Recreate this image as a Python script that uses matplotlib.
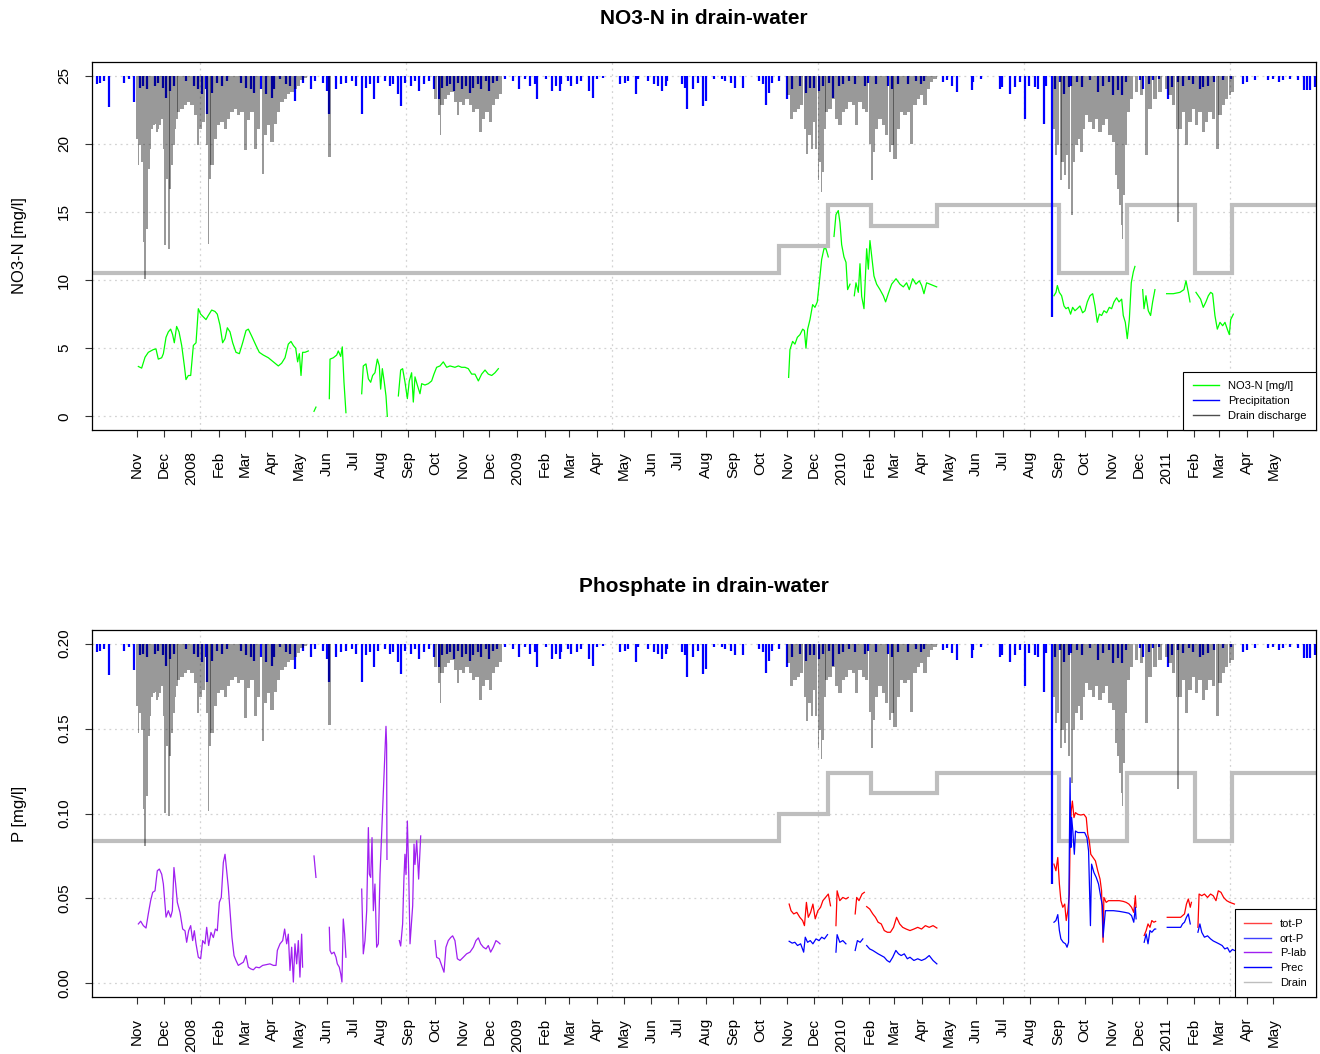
import numpy as np
import pandas as pd
import matplotlib
matplotlib.use("Agg")
import matplotlib.pyplot as plt
from matplotlib.lines import Line2D

plt.rcParams['font.family'] = ['Liberation Sans', 'DejaVu Sans']

# x values are days since 2008-01-01, None marks a gap in a series
T0 = pd.Timestamp('2008-01-01')

# precipitation [mm/day]
prec_day = [-106, -103, -98, -92, -76, -70, -64, -58, -54, -50, -41, -37, -32, -28, -24, -19,
            -6, 3, 7, 12, 16, 18, 23, 29, 34, 40, 56, 62, 67, 71, 78, 84, 91, 93, 100, 106,
            111, 117, 126, 135, 139, 148, 152, 155, 163, 168, 174, 181, 185, 192, 196, 201,
            205, 210, 218, 223, 227, 232, 236, 240, 247, 251, 256, 262, 267, 273, 278, 282,
            287, 291, 295, 300, 304, 309, 313, 317, 322, 326, 331, 335, 339, 344, 353, 361,
            368, 375, 381, 386, 388, 399, 405, 410, 414, 416, 423, 427, 434, 438, 447, 452,
            456, 463, 482, 487, 491, 500, 502, 513, 520, 524, 529, 533, 535, 551, 555, 557,
            564, 570, 575,
            578, 587, 596, 600, 607, 611, 620, 638, 642, 646, 649, 653, 660, 669, 675, 684,
            691, 695, 700, 706, 710, 717, 721, 728, 732, 739, 746, 757, 761, 770, 783, 787,
            794, 805, 814, 820, 823,
            845, 849, 855, 860, 877, 879, 888, 909, 911, 920, 926, 931, 937, 941, 948, 952,
            958, 961, 967, 971, 976, 981, 986, 989, 995, 1001, 1010, 1019, 1025, 1031, 1036,
            1042, 1046, 1051, 1066, 1070, 1076, 1081, 1087, 1098, 1102, 1109, 1115, 1121,
            1126, 1134, 1137, 1143, 1149, 1160, 1169, 1182, 1186, 1195, 1210, 1216, 1222,
            1227, 1235, 1244, 1250, 1254, 1257, 1263]
prec_mm = [2.6, 2.1, 1.6, 9.1, 2.1, 1.1, 7.7, 3.5, 3.1, 4.0, 3.1, 2.1, 3.5, 6.5, 4.5, 3.1,
           1.6, 3.1, 4.0, 5.5, 4.0, 11.4, 5.0, 2.1, 3.1, 1.6, 2.1, 3.5, 4.0, 5.0, 4.0, 5.5, 6.5, 4.0, 1.1, 2.6,
           3.1, 7.5, 2.1, 4.0, 1.6, 2.1, 4.5, 11.4, 4.0, 2.6, 2.1, 1.6, 3.1, 11.4, 3.5, 2.6,
           7.0, 2.1, 1.6, 3.1, 2.6, 5.5, 8.9, 2.1, 3.1, 1.6, 4.5, 2.6, 1.6, 4.0, 7.0, 3.5,
           3.1, 2.6, 4.5, 2.1, 4.0, 3.1, 5.0, 3.5, 2.6, 4.0, 1.6, 4.5, 2.1, 1.6, 1.1, 1.6,
           4.0, 1.1, 3.1, 2.6, 7.0, 1.1, 4.5, 3.1, 4.5, 2.6, 1.6, 3.1, 2.6, 1.6, 4.5, 6.5,
           1.1, 0.6, 2.6, 2.1, 1.6, 5.5, 1.1, 1.6, 2.6, 3.1, 4.5, 3.1, 1.6, 2.6, 3.5, 9.9,
           4.0, 2.1, 8.9,
           7.5, 1.1, 1.1, 1.6, 2.1, 3.5, 3.5, 1.6, 2.6, 8.7, 5.0, 2.1, 1.6, 7.0, 4.0, 3.1,
           5.0, 3.5, 3.5, 4.5, 3.1, 2.1, 6.5, 3.1, 2.6, 1.6, 2.6, 3.1, 2.1, 2.6, 3.1, 4.0,
           2.6, 2.6, 1.6, 2.6, 1.6,
           1.9, 1.4, 2.9, 4.8, 4.3, 1.9, 0.9, 3.8, 3.3, 5.3, 3.3, 1.9, 12.6, 2.9, 3.3, 3.8,
           14.1, 2.9, 70.8, 3.8, 1.9, 5.3, 3.3, 2.9, 1.9, 3.3, 1.4, 4.8, 2.9, 1.9, 5.8,
           4.3, 5.8, 1.9, 1.4, 3.8, 2.4, 1.4, 0.9, 6.8, 3.3, 1.9, 2.9, 1.4,
           2.4, 3.8, 3.3, 2.9, 1.9, 1.4, 0.9, 2.4, 1.9, 1.4, 1.4, 0.9, 1.9,
           1.4, 0.9, 1.4, 4.3, 4.3, 4.3, 3.3]

# drain discharge [mm/day]
drain_day = [-61.0, -59.2, -57.3, -55.4, -53.5, -51.7, -49.8, -47.9, -46.0, -44.2, -42.3, -40.4,
             -38.6, -36.7, -34.8, -32.9, -31.1, -29.2, -27.3, -25.4, -23.6, -21.7, -19.8, -17.9,
             -16.1, -14.2, -10.5, -6.7, -3.0, 0.8, 4.5, 7.5, 10.1, 13.9, 17.6, 19.5, 21.4, 23.3,
             27.0, 30.7, 34.5, 38.2, 42.0, 45.7, 49.5, 53.2, 57.0, 60.7, 64.5, 68.2, 72.0, 75.7,
             80.6, 83.2, 86.9, 90.7, 94.4, 98.2, 101.9, 105.7, 109.4, 113.2, 116.9, 120.7, 124.4,
             128.1, 155.1,
             274.2, 278.0, 279.9, 281.7, 285.5, 289.2, 293.0, 296.7, 299.7, 302.3, 306.1, 309.8,
             313.6, 317.3, 321.1, 324.8, 328.6, 332.3, 336.0, 339.8, 343.5, 347.3,
             671.0, 674.7, 678.4, 682.2, 685.9, 689.7, 692.3, 694.6, 697.2, 699.8, 702.0, 704.7,
             706.5, 708.4, 710.3, 712.2, 714.0, 717.8, 721.5, 725.3, 729.0, 732.8, 736.5, 740.3,
             744.0, 747.7, 751.5, 755.2, 759.0, 762.7, 765.3, 767.2, 770.2, 774.0, 777.7, 781.5,
             785.2, 788.2, 790.8, 794.6, 798.3, 802.1, 805.8, 809.6, 813.3, 817.0, 820.8, 824.5,
             828.3, 832.0, 835.8,
             969.5, 971.8, 974.4, 977.0, 979.2, 981.9, 984.5, 986.7, 989.4, 992.0, 995.0, 998.0,
             1000.6, 1003.2, 1006.2, 1010.0, 1013.7, 1017.5, 1021.2, 1025.0, 1028.7, 1032.4,
             1036.2, 1039.2, 1041.8, 1043.7, 1045.6, 1046.7, 1048.2, 1050.4, 1053.0, 1056.8,
             1062.4, 1068.0, 1073.7, 1077.4, 1083.0, 1088.6, 1096.1, 1099.9, 1103.6, 1107.4,
             1108.9, 1111.1, 1114.9, 1118.6, 1122.4, 1126.1, 1129.8, 1133.6, 1137.3, 1141.1,
             1144.8, 1148.6, 1153.1, 1156.1, 1159.8, 1163.6, 1167.3, 1170.3]
drain_mm = [18.5, 26.3, 20.5, 25.3, 48.8, 59.6, 44.9, 27.3, 21.4, 15.6, 14.6, 14.1,
            16.5, 15.6, 14.6, 12.6, 21.4, 49.8, 30.2, 50.8, 33.2, 26.3, 20.5, 15.6,
            12.6, 10.7, 9.7, 8.7, 7.7, 8.7, 11.7, 20.5, 15.6, 13.6, 20.5, 49.3, 30.2, 26.3,
            18.5, 14.6, 13.6, 15.6, 12.6, 10.7, 9.7, 11.7, 10.7, 21.9, 13.1, 10.7, 21.4, 15.6,
            28.8, 17.5, 14.6, 19.5, 14.1, 10.7, 7.7, 6.8, 5.3, 4.8, 3.8, 2.9, 1.4,
            0.7, 23.9,
            6.8, 11.7, 17.5, 8.7, 6.8, 5.8, 4.8, 7.7, 11.7, 7.7, 8.7, 6.8,
            8.7, 10.7, 9.7, 16.5, 12.6, 10.7, 13.6, 8.7, 6.8, 5.3,
            5.8, 12.6, 10.7, 9.7, 8.7, 15.6, 22.9, 17.5, 21.4, 13.6, 21.4, 30.7,
            25.3, 34.1, 28.3, 15.6, 10.7, 9.7, 6.8, 12.6, 14.6, 10.7, 9.7, 7.7,
            8.7, 14.6, 7.7, 9.7, 10.7, 20.0, 30.7, 22.4, 15.6, 12.6, 14.6, 17.5,
            22.4, 20.5, 24.4, 15.6, 10.7, 11.7, 10.7, 20.0, 8.7, 6.8, 5.8, 8.7,
            3.8, 1.9, 0.9,
            15.6, 23.4, 20.5, 30.7, 25.3, 29.3, 23.4, 33.2, 41.0, 25.3, 20.5, 18.5,
            22.4, 15.6, 11.7, 13.6, 15.6, 12.6, 16.5, 14.6, 12.6, 17.5,
            19.5, 29.3, 33.2, 38.1, 43.9, 47.8, 35.1, 20.5, 10.7, 6.8,
            4.8, 5.8, 23.4, 9.7, 6.8, 4.8, 3.8, 5.8, 8.7, 15.6,
            42.9, 15.6, 10.7, 20.5, 13.6, 9.7, 14.6, 10.7, 16.5, 13.6,
            10.7, 12.6, 21.4, 11.7, 8.7, 6.8, 5.8, 4.8]

# drain class level (drawn as step line), change dates and levels
step_day = [660, 715, 764, 838, 975, 1052, 1128, 1170]
step_level = [10.5, 12.5, 15.5, 14.0, 15.5, 10.5, 15.5, 10.5, 15.5]

# NO3-N [mg/l]
no3 = [(-59.5, 3.66), (-55.8, 3.54), (-52, 4.34), (-48.3, 4.7), (-42.7, 4.9), (-39.7, 4.95),
       (-37.1, 4.2), (-33.3, 4.3), (-31.4, 4.6), (-28.4, 5.8), (-25.8, 6.2), (-23.2, 6.4),
       (-21, 6.0), (-19.1, 5.4), (-16.5, 6.6), (-13.8, 6.2), (-10.8, 5.2), (-7.8, 3.7), (-6, 2.7),
       (-3.3, 3.0), (-0.7, 3.0), (2.3, 5.2), (5.3, 5.4), (7.9, 7.9), (10.5, 7.5), (13.5, 7.3),
       (16.5, 7.1), (19.1, 7.4), (22.9, 7.8), (26.6, 7.7), (29.2, 7.5), (32.2, 6.7), (35.2, 5.4),
       (37.9, 5.7), (40.5, 6.5), (43.5, 6.2), (46.5, 5.4), (50.2, 4.7), (54, 4.6), (57.7, 5.4),
       (61.5, 6.3), (64.1, 6.4), (67.8, 5.9), (72.7, 5.2), (76.4, 4.7), (80.9, 4.5), (86.6, 4.3),
       (92.2, 4.0), (97.8, 3.7), (101.5, 3.9), (105.3, 4.3), (109, 5.3), (112, 5.5), (114.7, 5.2),
       (117.3, 5.0), (119.5, 4.0), (121.4, 4.6), (123.3, 3.0), (125.1, 4.7), (127.8, 4.7),
       (131.5, 4.8), (None, None),
       (137.9, 0.37), (140.1, 0.68), (None, None),
       (155.1, 1.3), (155.9, 4.2), (159.6, 4.3), (163.4, 4.5), (165.2, 4.8), (167.9, 4.4),
       (169.7, 5.1), (171.6, 2.5), (173.8, 0.27), (None, None),
       (191.5, 1.66), (193.3, 3.7), (196.3, 3.85), (199, 2.75), (201.6, 2.5), (203.8, 3.0),
       (206.4, 3.2), (209.1, 4.2), (211.3, 3.7), (212.8, 2.0), (214.7, 3.5), (216.9, 2.5),
       (218.8, 1.5), (220.3, 0.0), (None, None),
       (232.7, 1.5), (235.3, 3.4), (237.5, 3.5), (240.2, 2.5), (242.8, 1.3), (245, 2.6),
       (247.6, 3.2), (249.5, 1.05), (251.4, 2.9), (254, 2.3), (257, 1.66), (258.9, 2.4),
       (262.6, 2.3), (266.4, 2.4), (270.1, 2.6), (272.7, 3.1), (275.7, 3.6), (279.5, 3.7),
       (283.2, 4.0), (287, 3.6), (290.7, 3.7), (296.3, 3.6), (300.1, 3.7), (303.8, 3.6),
       (307.6, 3.6), (311.3, 3.5), (315.1, 3.1), (318.8, 3.1), (322.6, 2.6), (326.3, 3.1),
       (330.1, 3.4), (333.8, 3.1), (337.6, 3.0), (341.3, 3.2), (345.1, 3.5), (None, None),
       (671.3, 2.86), (672.8, 4.9), (675.8, 5.5), (678.4, 5.3), (681.1, 5.8), (684.1, 6.0),
       (687.1, 6.4), (689, 6.3), (690.8, 5.0), (692.7, 6.4), (695.3, 7.1), (698.3, 8.2),
       (700.9, 8.0), (703.5, 8.4), (705.8, 9.8), (708.4, 11.5), (711, 12.3), (713.3, 12.3),
       (715.9, 11.7), (None, None),
       (722.3, 13.2), (724.5, 14.8), (727.1, 15.1), (729, 14.2), (730.9, 12.6), (733.5, 11.7),
       (735.8, 11.3), (737.6, 9.3), (740.3, 9.7), (None, None),
       (745.1, 8.85), (747, 9.8), (749.6, 9.1), (751.5, 11.2), (753.4, 8.8), (756, 7.9),
       (759, 12.3), (760.9, 10.8), (762.7, 12.9), (764.6, 11.8), (767.2, 10.3), (770.2, 9.7),
       (774, 9.3), (777.7, 8.85), (780.3, 8.4), (783.3, 9.0), (787.1, 9.7), (792, 10.1),
       (796.4, 9.7), (800.2, 9.5), (803.9, 9.8), (806.9, 9.3), (810.7, 10.1), (814.4, 9.7),
       (818.2, 9.95), (820.8, 9.6), (823.4, 9.0), (826.4, 9.8), (830.2, 9.7), (833.9, 9.6),
       (837.7, 9.5), (None, None),
       (969.5, 8.85), (971.8, 9.1), (973.3, 9.6), (975.5, 9.1), (978.1, 8.85), (980.8, 8.1),
       (983, 7.9), (985.6, 8.0), (988.2, 7.5), (990.5, 8.0), (993.1, 7.75), (995.7, 7.9),
       (998.7, 8.1), (1001.7, 7.6), (1004.4, 7.75), (1007, 8.4), (1010, 8.85), (1013, 9.0),
       (1015.6, 8.1), (1018.2, 6.9), (1020.5, 7.5), (1023.1, 7.4), (1025.7, 7.75), (1028.7, 7.6),
       (1031.7, 8.0), (1034.3, 7.9), (1037, 8.4), (1039.9, 8.7), (1042.6, 8.4), (1045.6, 8.6),
       (1047.4, 7.4), (1049.7, 6.9), (1051.9, 5.7), (1054.2, 7.1), (1056.4, 9.8), (1058.7, 10.6),
       (1060.5, 11.0), (None, None),
       (1069.2, 9.3), (1070.7, 7.9), (1072.9, 8.85), (1075.5, 7.75), (1078.1, 7.4), (1080.4, 8.4),
       (1083, 9.3), (None, None),
       (1096.1, 9.0), (1103.6, 9.0), (1111.1, 9.1), (1115.6, 9.3), (1117.9, 9.95), (1120.5, 9.1),
       (1122.4, 8.4), (None, None),
       (1129.1, 9.1), (1131.7, 8.85), (1134.3, 8.6), (1137.3, 8.0), (1140.3, 8.4), (1143, 8.85),
       (1145.6, 9.1), (1147.8, 9.0), (1150.4, 7.4), (1153.1, 6.4), (1156.1, 6.9), (1159.1, 6.65),
       (1161.7, 6.9), (1164.3, 6.4), (1166.6, 6.0), (1168.1, 7.1), (1171.1, 7.5)]

# P-lab [mg/l]
p_lab = [(-59.5, 0.035), (-56.9, 0.0366), (-53.9, 0.034), (-50.9, 0.0326), (-48.3, 0.041),
         (-45.7, 0.0487), (-43.4, 0.0536), (-40.8, 0.0545), (-38.2, 0.0663), (-35.9, 0.0673),
         (-33.3, 0.0643), (-31.4, 0.0585), (-29.6, 0.0467), (-28.4, 0.039), (-25.8, 0.0428),
         (-23.2, 0.039), (-21.3, 0.0428), (-19.5, 0.0682), (-17.6, 0.0585), (-15.7, 0.0477),
         (-12.7, 0.0418), (-9.7, 0.032), (-7.1, 0.031), (-5.2, 0.0242), (-3, 0.031), (-0.7, 0.034),
         (1.5, 0.0252), (3.4, 0.031), (5.3, 0.0233), (7.9, 0.0154), (10.5, 0.0145), (12.8, 0.0252),
         (15.4, 0.0233), (17.3, 0.033), (19.5, 0.0223), (22.1, 0.030), (24.8, 0.027), (27, 0.032),
         (29.2, 0.031), (31.5, 0.0477), (33.7, 0.0506), (36, 0.0712), (37.9, 0.076), (39.7, 0.0663),
         (41.6, 0.0565), (43.5, 0.0428), (45.7, 0.027), (48, 0.0164), (50.2, 0.0135), (52.8, 0.0106),
         (55.5, 0.0115), (58.5, 0.0125), (61.5, 0.0164), (64.1, 0.0096), (66.7, 0.0086),
         (69.7, 0.008), (72.7, 0.0096), (76.4, 0.0092), (80.2, 0.0106), (84.7, 0.0111),
         (88.4, 0.0115), (92.2, 0.0106), (95.2, 0.0106), (96.7, 0.0194), (99.7, 0.0233),
         (102.7, 0.0252), (104.9, 0.032), (107.2, 0.0233), (109, 0.029), (110.9, 0.0076),
         (112.8, 0.0213), (114.7, 0.0008), (116.5, 0.0233), (118.4, 0.0115), (120.3, 0.0252),
         (122.1, 0.0037), (124, 0.029), (125.1, 0.0096), (None, None),
         (137.9, 0.075), (140.1, 0.0624), (None, None),
         (155.1, 0.033), (155.9, 0.0194), (157.7, 0.0174), (160.4, 0.0184), (162.6, 0.0154),
         (164.1, 0.0115), (166.3, 0.0096), (167.9, 0.0057), (169.3, 0.0008), (170.8, 0.0379),
         (172.3, 0.029), (173.8, 0.0154), (None, None),
         (191.5, 0.0555), (193.3, 0.0174), (195.2, 0.0252), (197.1, 0.0428), (199, 0.0917),
         (200.1, 0.0643), (201.6, 0.0624), (203.1, 0.0858), (204.6, 0.0428), (206.4, 0.0585),
         (208.3, 0.0213), (210.2, 0.0233), (212.1, 0.0643), (213.9, 0.0878), (215, 0.1015),
         (216.5, 0.121), (217.7, 0.1386), (218.8, 0.1513), (219.5, 0.1406), (219.9, 0.073),
         (None, None),
         (233.8, 0.0252), (235.3, 0.022), (237.5, 0.035), (239, 0.0624), (240.1, 0.076),
         (241.3, 0.064), (242.8, 0.0956), (244.3, 0.066), (245.8, 0.0233), (247.6, 0.037),
         (248.8, 0.0457), (250.3, 0.082), (251.4, 0.07), (253.3, 0.084), (255.5, 0.0614),
         (257.8, 0.0868), (None, None),
         (273.9, 0.0252), (275.7, 0.0154), (278.7, 0.0145), (281.3, 0.0106), (284, 0.0066),
         (286.2, 0.0213), (288.8, 0.0252), (291.5, 0.027), (293.7, 0.028), (296.3, 0.0252),
         (299, 0.0145), (302, 0.0135), (305.7, 0.0154), (309.4, 0.0174), (313.2, 0.0184),
         (317, 0.0213), (319.9, 0.0252), (322.6, 0.0268), (325.2, 0.0233), (328.2, 0.0213),
         (331.2, 0.0203), (333.8, 0.0223), (336.4, 0.0184), (339.4, 0.0213), (342.4, 0.0252),
         (345.1, 0.0242), (346.9, 0.0233)]

# tot-P [mg/l]
tot_p = [(671.9, 0.0467), (674, 0.0428), (677, 0.0409), (680.5, 0.0418), (683.9, 0.0389),
         (687, 0.037), (689.1, 0.034), (691.3, 0.0477), (693.4, 0.0389), (696, 0.0418),
         (698.6, 0.0467), (701.2, 0.038), (704.2, 0.0428), (707.2, 0.0448), (709.8, 0.0487),
         (712.8, 0.0506), (715.9, 0.0526), (718.4, 0.0457), (None, None),
         (724.5, 0.034), (725.8, 0.0545), (728.8, 0.0487), (732.2, 0.0506), (735.7, 0.0497),
         (738.3, 0.0506), (None, None),
         (746.1, 0.0409), (747.8, 0.0506), (750.4, 0.0487), (753.8, 0.0526), (756.4, 0.0536),
         (None, None),
         (759, 0.0452), (762.4, 0.0438), (765.9, 0.0409), (768.9, 0.0389), (771.9, 0.036),
         (775.4, 0.035), (778.8, 0.0311), (782.3, 0.0301), (785.7, 0.0301), (789.2, 0.033),
         (792.6, 0.0389), (796.1, 0.035), (799.5, 0.033), (803.4, 0.032), (807.7, 0.0311),
         (812.1, 0.032), (816.4, 0.033), (820.7, 0.032), (825, 0.034), (829.3, 0.033),
         (833.6, 0.034), (837.9, 0.0326), (None, None),
         (969.5, 0.0702), (971.7, 0.0663), (973.8, 0.0741), (975.6, 0.0585), (977.3, 0.0487),
         (979.4, 0.0448), (981.6, 0.0467), (983.3, 0.037), (985.1, 0.0428), (986.8, 0.0526),
         (987.6, 0.0819), (988.9, 0.1015), (990.2, 0.1073), (992, 0.0976), (993.7, 0.1005),
         (996.3, 0.0995), (999.7, 0.0991), (1003.2, 0.0995), (1005.8, 0.0976), (1007.5, 0.0878),
         (1009.2, 0.0839), (1010.9, 0.076), (1013.5, 0.0741), (1016.1, 0.0721), (1018.7, 0.0663),
         (1021.3, 0.0614), (1023, 0.0545), (1024.7, 0.0242), (1025.6, 0.0506), (1028.2, 0.0477),
         (1030.8, 0.0487), (1034.2, 0.0487), (1038.5, 0.0487), (1042.9, 0.0487), (1047.2, 0.0483),
         (1050.6, 0.0477), (1053.7, 0.0467), (1056.7, 0.0448), (1059.2, 0.0418), (1061, 0.0516),
         (1061.8, 0.0448), (None, None),
         (1070.9, 0.0282), (1073.1, 0.0311), (1075.2, 0.035), (1077.4, 0.033), (1079.5, 0.037),
         (1081.7, 0.036), (1083.8, 0.0365), (None, None),
         (1096.8, 0.0389), (1111.9, 0.0389), (1116.2, 0.0409), (1118.4, 0.0467), (1120.5, 0.0497),
         (1122.7, 0.0448), (1124, 0.0477), (None, None),
         (1131.3, 0.033), (1132.6, 0.0526), (1135.6, 0.0516), (1138.6, 0.0526), (1142.1, 0.0506),
         (1145.5, 0.0526), (1148.5, 0.0516), (1151.6, 0.0487), (1154.2, 0.0545), (1157.2, 0.0536),
         (1160.2, 0.0506), (1163.6, 0.0487), (1167.1, 0.0477), (1170.1, 0.0471), (1172.3, 0.0467)]

# ort-P [mg/l]
ort_p = [(671.9, 0.0248), (675.3, 0.0237), (678.3, 0.0242), (681.3, 0.0223), (684.8, 0.0233),
         (688.2, 0.0184), (690, 0.0272), (692.6, 0.0242), (695.6, 0.0252), (698.6, 0.0233),
         (702.1, 0.0262), (705.5, 0.0252), (708.5, 0.0272), (711.5, 0.0262), (715, 0.0287),
         (None, None),
         (724.5, 0.0184), (725.8, 0.0287), (728.8, 0.0242), (732.2, 0.0252), (735.7, 0.0233),
         (None, None),
         (746.1, 0.0194), (748.6, 0.0252), (751.7, 0.0242), (754.7, 0.0262), (None, None),
         (759, 0.0223), (762.4, 0.0203), (765.9, 0.0194), (768.9, 0.0184), (771.9, 0.0174),
         (775.4, 0.0164), (778.8, 0.0154), (781.9, 0.0135), (784.9, 0.0125), (788.3, 0.0154),
         (791.8, 0.0194), (794.8, 0.0174), (797.8, 0.0164), (801.3, 0.0174), (804.7, 0.0145),
         (807.7, 0.0154), (812.1, 0.0135), (816.4, 0.0145), (820.7, 0.0135), (825, 0.0145),
         (829.3, 0.0164), (833.6, 0.0135), (837.9, 0.0115), (None, None),
         (969.5, 0.036), (971.7, 0.037), (973.8, 0.0405), (975.6, 0.0311), (977.3, 0.0262),
         (979.9, 0.0242), (982.5, 0.0233), (984.2, 0.0213), (985.9, 0.0242), (986.8, 0.08),
         (987.6, 0.121), (988.5, 0.08), (989.4, 0.0976), (990.7, 0.0897), (992.4, 0.076),
         (993.7, 0.0897), (996.3, 0.0888), (999.7, 0.0888), (1004, 0.0888), (1006.6, 0.0858),
         (1008.4, 0.078), (1010.5, 0.034), (1011.8, 0.0702), (1014.4, 0.0653), (1017, 0.0624),
         (1019.6, 0.0585), (1022.2, 0.0506), (1023.9, 0.0457), (1024.7, 0.0272), (1027.3, 0.0428),
         (1030.8, 0.0428), (1036.4, 0.0428), (1042.9, 0.0424), (1049.3, 0.0418), (1053.7, 0.0413),
         (1056.7, 0.0399), (1059.2, 0.036), (1061, 0.0448), (1061.8, 0.038), (None, None),
         (1070.9, 0.0242), (1073.1, 0.0291), (1075.2, 0.0233), (1077.4, 0.0311), (1079.5, 0.0301),
         (1082.6, 0.032), (1083.8, 0.032), (None, None),
         (1096.8, 0.033), (1111.9, 0.033), (1114, 0.035), (1116.2, 0.036), (1118.4, 0.0389),
         (1120.5, 0.0409), (1122.7, 0.035), (None, None),
         (1131.3, 0.0301), (1133.5, 0.035), (1135.6, 0.0301), (1138.6, 0.0272), (1142.1, 0.028),
         (1145.5, 0.0262), (1148.5, 0.025), (1151.6, 0.0242), (1155, 0.0233), (1158.5, 0.0223),
         (1161.5, 0.0203), (1164.5, 0.021), (1167.1, 0.0184), (1170.1, 0.02), (1172.3, 0.0194)]

XLIM = (-111.6, 1264.0)


def series(pairs):
    arr = np.array(pairs, dtype=float)
    return arr[:, 0], arr[:, 1]


def month_ticks():
    months = pd.date_range('2007-11-01', '2011-05-01', freq='MS')
    pos = np.asarray((months - T0).days, dtype=float)
    labs = [str(m.year) if m.month == 1 else m.strftime('%b') for m in months]
    return pos, labs


def base_panel(ax, top, ylim, yticks, ylabels, ylabel, title_y, title):
    f = top / 25.0
    ax.set_xlim(*XLIM)
    ax.set_ylim(*ylim)

    # R grid(): dotted lightgray, x lines at pretty POSIXct seconds
    grid_days = (np.arange(1.2e9, 1.31e9, 2e7) - T0.timestamp()) / 86400.0
    for g in grid_days:
        ax.axvline(g, color='#D3D3D3', lw=0.9, ls=(0, (1.5, 3)), zorder=0)
    for t in yticks:
        ax.axhline(t, color='#D3D3D3', lw=0.9, ls=(0, (1.5, 3)), zorder=0)

    # drain class step line
    sx = [XLIM[0]] + step_day + [XLIM[1]]
    sy = [v * f for v in step_level] + [step_level[-1] * f]
    ax.plot(sx, sy, drawstyle='steps-post', color='#BEBEBE', lw=3.0, zorder=1,
            solid_joinstyle='miter')

    # hanging bars: precipitation and drain discharge (mm * 0.25 on the NO3 scale)
    pd_ = np.array(prec_day, float)
    pm = np.array(prec_mm, float) * 0.25 * f
    ax.vlines(pd_, top - pm, top, colors='#0000FF', lw=1.6, zorder=2)
    dd = np.array(drain_day, float)
    dm = np.array(drain_mm, float) * 0.25 * f
    w = np.minimum(np.diff(np.append(dd, dd[-1] + 3.0)), 3.8)
    ax.bar(dd, dm, width=w, bottom=top - dm, align='center', color='black',
           alpha=0.4, lw=0, zorder=3)

    pos, labs = month_ticks()
    ax.set_xticks(pos)
    ax.set_xticklabels(labs, rotation=90, ha='center', va='top')
    ax.set_yticks(yticks)
    ax.set_yticklabels(ylabels, rotation=90, va='center', ha='right')
    ax.tick_params(axis='both', direction='out', length=5, width=0.8, pad=10,
                   labelsize=11, color='#333333')
    for s in ax.spines.values():
        s.set_linewidth(0.9)
        s.set_color('black')
    ax.set_ylabel(ylabel, fontsize=12)
    ax.yaxis.set_label_coords(-0.053, 0.5)
    fig.text(704 / 1320, 1 - title_y / 1054, title, ha='center', va='center',
             fontsize=15, fontweight='bold')


def add_legend(ax, colors, labels):
    handles = [Line2D([], [], color=c, lw=1) for c in colors]
    leg = ax.legend(handles=handles, labels=labels, loc='lower right', borderaxespad=0,
                    fontsize=8, fancybox=False, edgecolor='black', framealpha=1,
                    handlelength=2.4, handletextpad=0.8, labelspacing=0.42, borderpad=0.85)
    leg.get_frame().set_linewidth(0.8)
    leg.set_zorder(10)


fig = plt.figure(figsize=(13.2, 10.54), dpi=100)
ax1 = fig.add_axes([92 / 1320, 1 - 430 / 1054, 1224 / 1320, 368 / 1054])
ax2 = fig.add_axes([92 / 1320, 1 - 997 / 1054, 1224 / 1320, 367 / 1054])

# top panel: NO3-N
base_panel(ax1, 25.0, (-1.0, 26.0), [0, 5, 10, 15, 20, 25],
           ['0', '5', '10', '15', '20', '25'], 'NO3-N [mg/l]', 18, 'NO3-N in drain-water')
x, y = series(no3)
ax1.plot(x, y, color='#00FF00', lw=0.9, zorder=4)
add_legend(ax1, ['#00FF00', '#0000FF', '#4D4D4D'],
           ['NO3-N [mg/l]', 'Precipitation', 'Drain discharge'])

# bottom panel: phosphate
base_panel(ax2, 0.2, (-0.008, 0.208), [0.0, 0.05, 0.10, 0.15, 0.20],
           ['0.00', '0.05', '0.10', '0.15', '0.20'], 'P [mg/l]', 586, 'Phosphate in drain-water')
x, y = series(p_lab)
ax2.plot(x, y, color='#A020F0', lw=0.9, zorder=4)
x, y = series(tot_p)
ax2.plot(x, y, color='#FF0000', lw=0.9, zorder=4)
x, y = series(ort_p)
ax2.plot(x, y, color='#0000FF', lw=0.9, zorder=5)
add_legend(ax2, ['#FF4040', '#4040FF', '#A020F0', '#0000FF', '#BEBEBE'],
           ['tot-P', 'ort-P', 'P-lab', 'Prec', 'Drain'])

fig.savefig('out.png', dpi=100)
